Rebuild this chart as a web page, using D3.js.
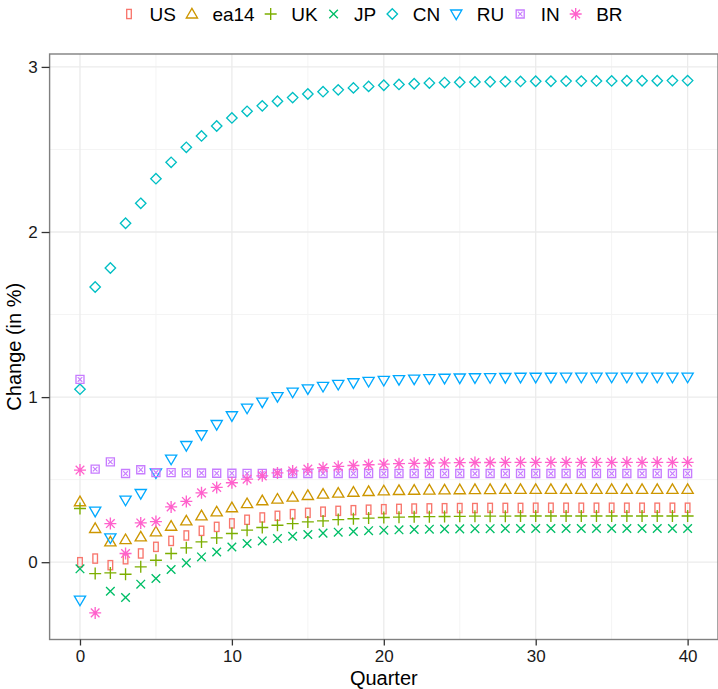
<!DOCTYPE html>
<html><head><meta charset="utf-8">
<script src="https://cdn.jsdelivr.net/npm/d3@7"></script>
<style>body{margin:0;background:#fff;} svg{display:block;font-family:"Liberation Sans",Arial,sans-serif;}</style>
</head><body>
<svg id="chart" width="718" height="689"></svg>
<script>
const quarters = d3.range(0, 41);
const seriesNames = ["US","ea14","UK","JP","CN","RU","IN","BR"];
const colors = ["#F8766D","#CD9600","#7CAE00","#00BE67","#00BFC4","#00A9FF","#C77CFF","#FF61CC"];
const shapes = ["rect","triUp","plus","cross","diamond","triDown","boxX","star"];

const US = [0.000,0.022,-0.018,0.018,0.053,0.093,0.129,0.162,0.190,0.214,0.235,0.257,0.271,0.281,0.291,0.299,0.306,0.311,0.315,0.318,0.321,0.323,0.325,0.326,0.327,0.328,0.328,0.329,0.329,0.329,0.330,0.330,0.330,0.330,0.330,0.330,0.330,0.330,0.330,0.330,0.330];
const ea14 = [0.366,0.204,0.123,0.137,0.153,0.184,0.218,0.250,0.281,0.305,0.330,0.355,0.372,0.382,0.394,0.404,0.412,0.418,0.424,0.428,0.432,0.434,0.436,0.437,0.438,0.439,0.440,0.440,0.441,0.441,0.441,0.441,0.441,0.441,0.441,0.441,0.441,0.441,0.441,0.441,0.441];
const UK = [0.325,-0.069,-0.065,-0.073,-0.028,0.012,0.053,0.087,0.123,0.147,0.174,0.194,0.210,0.224,0.234,0.244,0.250,0.258,0.263,0.267,0.271,0.273,0.275,0.276,0.277,0.278,0.279,0.279,0.279,0.280,0.280,0.280,0.280,0.280,0.280,0.280,0.280,0.280,0.280,0.280,0.280];
const JP = [-0.040,null,-0.176,-0.214,-0.133,-0.099,-0.044,-0.004,0.032,0.062,0.092,0.113,0.129,0.143,0.157,0.168,0.176,0.182,0.186,0.191,0.194,0.196,0.198,0.200,0.201,0.202,0.203,0.203,0.204,0.204,0.204,0.204,0.204,0.204,0.204,0.204,0.204,0.204,0.204,0.204,0.204];
const CN = [1.048,1.667,1.782,2.053,2.174,2.323,2.422,2.513,2.582,2.642,2.691,2.731,2.764,2.792,2.814,2.836,2.850,2.861,2.873,2.882,2.889,2.894,2.898,2.902,2.905,2.907,2.909,2.910,2.911,2.912,2.913,2.913,2.914,2.914,2.915,2.915,2.916,2.916,2.916,2.917,2.917];
const RU = [-0.230,0.309,0.147,0.376,0.416,0.541,0.624,0.707,0.772,0.834,0.887,0.933,0.970,1.003,1.030,1.050,1.065,1.077,1.087,1.095,1.101,1.106,1.109,1.112,1.114,1.116,1.117,1.118,1.119,1.120,1.120,1.120,1.121,1.121,1.121,1.121,1.121,1.121,1.121,1.121,1.121];
const IN = [1.107,0.564,0.608,0.537,0.560,0.543,0.543,0.541,0.540,0.539,0.539,0.538,0.538,0.538,0.537,0.537,0.537,0.537,0.537,0.537,0.537,0.537,0.537,0.537,0.537,0.537,0.537,0.537,0.537,0.537,0.537,0.537,0.537,0.537,0.537,0.537,0.537,0.537,0.537,0.537,0.537];
const BR = [0.558,-0.307,0.234,0.053,0.238,0.246,0.335,0.368,0.420,0.453,0.481,0.503,0.523,0.541,0.553,0.564,0.572,0.580,0.586,0.590,0.594,0.597,0.599,0.601,0.602,0.603,0.604,0.604,0.605,0.605,0.605,0.605,0.605,0.605,0.605,0.605,0.605,0.605,0.605,0.605,0.605];
const seriesValues = [US,ea14,UK,JP,CN,RU,IN,BR];
const xTicks = [0,10,20,30,40];
const yTicks = [0,1,2,3];
const xLabel = "Quarter";
const yLabel = "Change (in %)";

const svg = d3.select("#chart");
const panel = {left:49.6, right:718, top:54, bottom:639.5};

const allVals = seriesValues.flat().filter(v => v !== null);
const yMin = d3.min(allVals), yMax = d3.max(allVals);
const yPad = (yMax - yMin) * 0.05;
const x = d3.scaleLinear().domain([-2, 42]).range([panel.left, panel.right]);
const y = d3.scaleLinear().domain([yMin - yPad, yMax + yPad]).range([panel.bottom, panel.top]);

// grid
const g = svg.append("g");
const xMinor = [5,15,25,35], yMinor = [0.5,1.5,2.5];
g.selectAll(".xmin").data(xMinor).join("line").attr("x1",d=>x(d)).attr("x2",d=>x(d)).attr("y1",panel.top).attr("y2",panel.bottom).attr("stroke","#f4f4f4").attr("stroke-width",1);
g.selectAll(".ymin").data(yMinor).join("line").attr("y1",d=>y(d)).attr("y2",d=>y(d)).attr("x1",panel.left).attr("x2",panel.right).attr("stroke","#f4f4f4").attr("stroke-width",1);
g.selectAll(".xmaj").data(xTicks).join("line").attr("x1",d=>x(d)).attr("x2",d=>x(d)).attr("y1",panel.top).attr("y2",panel.bottom).attr("stroke","#ebebeb").attr("stroke-width",1.3);
g.selectAll(".ymaj").data(yTicks).join("line").attr("y1",d=>y(d)).attr("y2",d=>y(d)).attr("x1",panel.left).attr("x2",panel.right).attr("stroke","#ebebeb").attr("stroke-width",1.3);

// symbols
function drawShape(sel, shape, color) {
  const sw = 1.35;
  if (shape === "rect") {
    sel.append("rect").attr("x",-2.3).attr("y",-4.6).attr("width",4.6).attr("height",9.2).attr("fill","none").attr("stroke",color).attr("stroke-width",sw);
  } else if (shape === "triUp") {
    sel.append("path").attr("d","M0,-5.6L5.6,4L-5.6,4Z").attr("fill","none").attr("stroke",color).attr("stroke-width",sw);
  } else if (shape === "triDown") {
    sel.append("path").attr("d","M0,5.6L5.6,-4L-5.6,-4Z").attr("fill","none").attr("stroke",color).attr("stroke-width",sw);
  } else if (shape === "plus") {
    sel.append("path").attr("d","M-6,0H6M0,-6V6").attr("stroke",color).attr("stroke-width",sw);
  } else if (shape === "cross") {
    sel.append("path").attr("d","M-4.3,-4.3L4.3,4.3M-4.3,4.3L4.3,-4.3").attr("stroke",color).attr("stroke-width",sw);
  } else if (shape === "diamond") {
    sel.append("path").attr("d","M0,-5.2L5.2,0L0,5.2L-5.2,0Z").attr("fill","none").attr("stroke",color).attr("stroke-width",sw);
  } else if (shape === "boxX") {
    sel.append("path").attr("d","M-4,-4H4V4H-4Z").attr("fill","none").attr("stroke",color).attr("stroke-width",sw);
    sel.append("path").attr("d","M-2.3,-2.3L2.3,2.3M-2.3,2.3L2.3,-2.3").attr("stroke",color).attr("stroke-width",1.1);
  } else if (shape === "star") {
    sel.append("path").attr("d","M-6,0H6M0,-6V6M-4.3,-4.3L4.3,4.3M-4.3,4.3L4.3,-4.3").attr("stroke",color).attr("stroke-width",sw);
  }
}

const pts = svg.append("g");
seriesNames.forEach((name, i) => {
  const data = quarters.map((q, j) => ({q, v: seriesValues[i][j]})).filter(d => d.v !== null);
  pts.selectAll(null).data(data).join("g")
    .attr("transform", d => `translate(${x(d.q)},${y(d.v)})`)
    .each(function(){ drawShape(d3.select(this), shapes[i], colors[i]); });
});

// frame
svg.append("rect").attr("x",panel.left).attr("y",panel.top).attr("width",panel.right-panel.left).attr("height",panel.bottom-panel.top)
  .attr("fill","none").attr("stroke","#808080").attr("stroke-width",1.4);

// axes
const xAxis = svg.append("g").attr("transform",`translate(0,${panel.bottom})`)
  .call(d3.axisBottom(x).tickValues(xTicks).tickSize(6).tickPadding(4).tickFormat(d3.format("d")));
xAxis.select(".domain").remove();
xAxis.selectAll("line").attr("stroke","#333").attr("stroke-width",1.3);
xAxis.selectAll("text").attr("font-size","17px").attr("fill","#1a1a1a").attr("font-family","Liberation Sans, Arial, sans-serif");

const yAxis = svg.append("g").attr("transform",`translate(${panel.left},0)`)
  .call(d3.axisLeft(y).tickValues(yTicks).tickSize(8).tickPadding(4).tickFormat(d3.format("d")));
yAxis.select(".domain").remove();
yAxis.selectAll("line").attr("stroke","#333").attr("stroke-width",1.3);
yAxis.selectAll("text").attr("font-size","17px").attr("fill","#1a1a1a").attr("font-family","Liberation Sans, Arial, sans-serif");

svg.append("text").attr("x",(panel.left+panel.right)/2).attr("y",685).attr("text-anchor","middle")
  .attr("font-size","20px").attr("fill","#000").text(xLabel);
svg.append("text").attr("transform",`translate(21,${(panel.top+panel.bottom)/2}) rotate(-90)`).attr("text-anchor","middle")
  .attr("font-size","20px").attr("fill","#000").text(yLabel);

// legend
const leg = svg.append("g");
let symX = 129;
seriesNames.forEach((name, i) => {
  const item = leg.append("g");
  const sg = item.append("g").attr("transform",`translate(${symX},14)`);
  drawShape(sg, shapes[i], colors[i]);
  const t = item.append("text").attr("x",symX+20.5).attr("y",21).attr("font-size","19px").attr("fill","#000").text(name);
  const w = t.node().getComputedTextLength();
  symX = symX + 20.5 + w + 16;
});
</script>
</body></html>
